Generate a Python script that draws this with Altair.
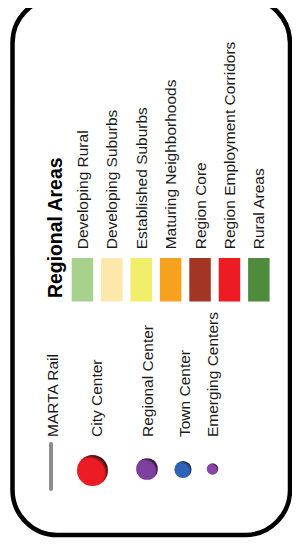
import altair as alt
import pandas as pd

# ---------------- data ----------------
AREA_TITLE = "Regional Areas"
AREA_NAMES = ["Developing Rural", "Developing Suburbs", "Established Suburbs",
              "Maturing Neighborhoods", "Region Core", "Region Employment Corridors",
              "Rural Areas"]
AREA_COLORS = ["#a9d18e", "#fde7aa", "#f1ee6c", "#f6a21e", "#a23524", "#ed1c24", "#4e8b3c"]

RAIL_NAME = "MARTA Rail"
RAIL_COLOR = "#8c8c8c"
CENTER_NAMES = ["City Center", "Regional Center", "Town Center", "Emerging Centers"]
CENTER_COLORS = ["#ec1c24", "#7e3f9f", "#2e62b6", "#8a43a8"]

# ---------------- layout / style (page pixels) ----------------
W, H = 284, 535          # plot area; page offset 8px
FONT = "Liberation Sans"
LABEL_SIZE = 15.5
TITLE_SIZE = 19.4
HALF_CAP = 5.5           # offset so the cap-height is centred on a column

SW_X0, SW_STEP, SW_W = 71.7, 29.4, 21.5
SW_Y0, SW_Y1 = 258, 301.5
AREA_LABEL_Y = 249.3
TITLE_X, TITLE_Y = 62, 298

CENTER_SYM_X = [92.5, 147, 183, 212.5]
CENTER_SYM_Y = [470.5, 469, 469.5, 469]
CENTER_SYM_SIZE = [960, 470, 296, 133]
CENTER_LABEL_X = [96, 147, 184, 212]
CENTER_LABEL_Y = 437
RAIL_X, RAIL_Y0, RAIL_Y1, RAIL_LABEL_X = 51, 444, 489, 52

xs = alt.Scale(domain=[8, 8 + W], range=[0, W], nice=False, zero=False)
ys = alt.Scale(domain=[8, 8 + H], range=[0, H], nice=False, zero=False)

def X(f, **kw):
    return alt.X(f, type="quantitative", scale=xs, axis=None, **kw)

def Y(f, **kw):
    return alt.Y(f, type="quantitative", scale=ys, axis=None, **kw)

# ---- tables ----
areas = pd.DataFrame({"name": AREA_NAMES, "color": AREA_COLORS})
areas["x0"] = [SW_X0 + SW_STEP * i for i in range(len(areas))]
areas["x1"] = areas["x0"] + SW_W
areas["y0"] = SW_Y0
areas["y1"] = SW_Y1
areas["lx"] = areas["x0"] + SW_W / 2 + HALF_CAP
areas["ly"] = AREA_LABEL_Y

centers = pd.DataFrame({"name": CENTER_NAMES, "color": CENTER_COLORS,
                        "sx": CENTER_SYM_X, "sy": CENTER_SYM_Y, "size": CENTER_SYM_SIZE})
labels = pd.DataFrame({"name": [RAIL_NAME] + CENTER_NAMES,
                       "lx": [RAIL_LABEL_X + HALF_CAP] + [v + HALF_CAP for v in CENTER_LABEL_X],
                       "ly": CENTER_LABEL_Y})
rail = pd.DataFrame({"name": [RAIL_NAME], "x": [RAIL_X], "y0": [RAIL_Y0], "y1": [RAIL_Y1]})
title = pd.DataFrame({"t": [AREA_TITLE], "x": [TITLE_X], "y": [TITLE_Y]})

# ---- layers ----
frame = alt.Chart(pd.DataFrame({"a": [0]})).mark_rect(
    fillOpacity=0, stroke="black", strokeWidth=4.5, cornerRadius=45, clip=True
).encode(x=alt.value(12.5 - 8), x2=alt.value(290 - 8), y=alt.value(-2 - 8), y2=alt.value(535 - 8))

swatches = alt.Chart(areas).mark_rect().encode(
    x=X("x0"), x2="x1", y=Y("y0"), y2="y1", fill=alt.Fill("color:N", scale=None)
)

area_labels = alt.Chart(areas).mark_text(
    angle=270, align="left", baseline="alphabetic", font=FONT, fontSize=LABEL_SIZE, color="#1a1a1a"
).encode(x=X("lx"), y=Y("ly"), text="name:N")

title_txt = alt.Chart(title).mark_text(
    angle=270, align="left", baseline="alphabetic", font=FONT, fontSize=TITLE_SIZE,
    fontWeight="bold", color="#000000"
).encode(x=X("x"), y=Y("y"), text="t:N")

rail_line = alt.Chart(rail).mark_rule(
    color=RAIL_COLOR, strokeWidth=4, strokeCap="round"
).encode(x=X("x"), y=Y("y0"), y2="y1")

center_labels = alt.Chart(labels).mark_text(
    angle=270, align="left", baseline="alphabetic", font=FONT, fontSize=LABEL_SIZE, color="#1a1a1a"
).encode(x=X("lx"), y=Y("ly"), text="name:N")


def sphere(color):
    return alt.RadialGradient(
        gradient="radial", x1=0.4, y1=0.6, r1=0, x2=0.4, y2=0.6, r2=0.64,
        stops=[alt.GradientStop(offset=0, color=color),
               alt.GradientStop(offset=0.74, color=color),
               alt.GradientStop(offset=1, color="#1a0a0a")])


symbols = []
for name, color in zip(CENTER_NAMES, CENTER_COLORS):
    symbols.append(
        alt.Chart(centers).transform_filter(alt.datum.name == name).mark_point(
            shape="circle", filled=True, fill=sphere(color), opacity=1, strokeWidth=0
        ).encode(x=X("sx"), y=Y("sy"), size=alt.Size("size:Q", scale=None, legend=None))
    )

chart = alt.layer(frame, swatches, area_labels, title_txt, rail_line, center_labels, *symbols).properties(
    width=W, height=H, autosize=alt.AutoSizeParams(type="none"), padding=0, background="white"
).configure_view(stroke=None)

chart.save("out.html", embed_options={"renderer": "svg", "actions": False})
